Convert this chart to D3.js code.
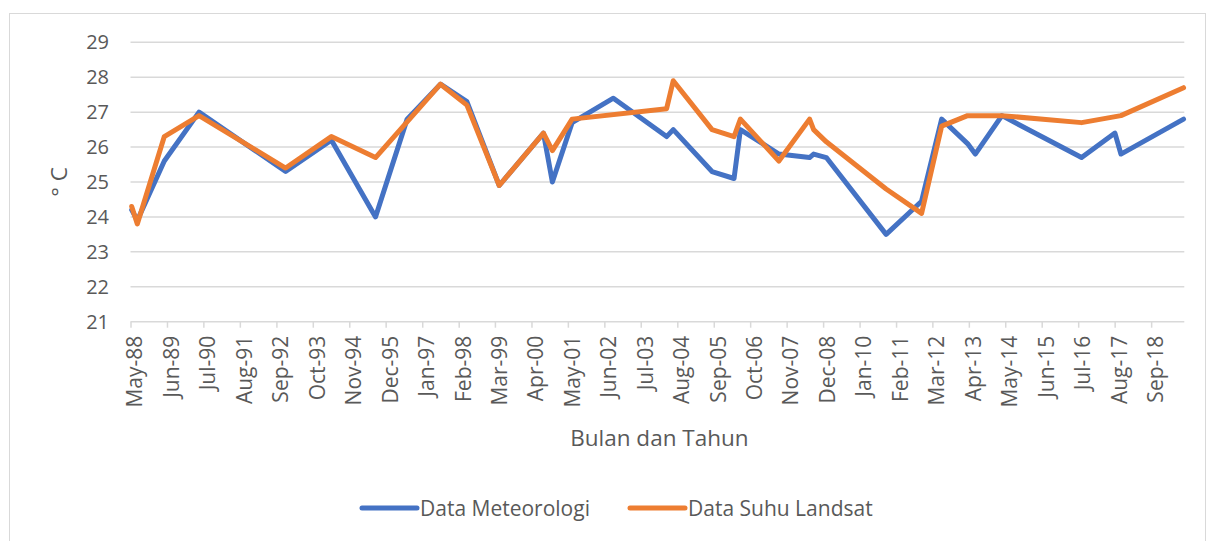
<!DOCTYPE html>
<html>
<head>
<meta charset="utf-8">
<script src="https://cdn.jsdelivr.net/npm/d3@7"></script>
<style>
body { margin: 0; background: #fff; }
svg text { font-family: "Open Sans", sans-serif; fill: #595959; }
</style>
</head>
<body>
<svg width="1206" height="541"></svg>
<script>
// acquisition dates (shared by both series, null = no value on that date)
var dates = [
    "1988-05-14", "1988-07-14", "1989-05-03", "1990-05-15", "1992-12-10",
    "1994-04-20", "1995-08-13", "1996-07-21", "1997-07-18", "1998-05-01",
    "1999-04-17", "2000-08-09", "2000-11-14", "2001-06-16", "2002-09-07",
    "2004-04-07", "2004-06-18", "2005-08-13", "2006-04-09", "2006-06-17",
    "2007-08-09", "2008-07-07", "2008-08-20", "2009-01-05", "2010-10-16",
    "2011-11-05", "2012-06-10", "2013-03-18", "2013-06-10", "2014-03-26",
    "2016-08-07", "2017-08-04", "2017-10-08", "2019-08-19"
];

var meteorologi = [
    24.2, 23.9, 25.6, 27.0, 25.3,
    26.2, 24.0, 26.8, 27.8, 27.3,
    24.9, 26.4, 25.0, 26.7, 27.4,
    26.3, 26.5, 25.3, 25.1, 26.5,
    25.8, 25.7, 25.8, 25.7, 23.5,
    24.45, 26.8, 26.1, 25.8, 26.9,
    25.7, 26.4, 25.8, 26.8
];

var landsat = [
    24.3, 23.8, 26.3, 26.9, 25.4,
    26.3, 25.7, null, 27.8, 27.2,
    24.9, 26.4, 25.9, 26.8, null,
    27.1, 27.9, 26.5, 26.3, 26.8,
    25.6, 26.8, 26.5, 26.15, 24.8,
    24.1, 26.6, 26.9, null, 26.9,
    26.7, null, 26.9, 27.7
];

var seriesNames = ["Data Meteorologi", "Data Suhu Landsat"];
var seriesColors = ["#4472C4", "#ED7D31"];

var xTickLabels = [
    "May-88", "Jun-89", "Jul-90", "Aug-91", "Sep-92", "Oct-93", "Nov-94", "Dec-95",
    "Jan-97", "Feb-98", "Mar-99", "Apr-00", "May-01", "Jun-02", "Jul-03", "Aug-04",
    "Sep-05", "Oct-06", "Nov-07", "Dec-08", "Jan-10", "Feb-11", "Mar-12", "Apr-13",
    "May-14", "Jun-15", "Jul-16", "Aug-17", "Sep-18"
];
var yTicks = [21, 22, 23, 24, 25, 26, 27, 28, 29];
var axisStart = "1988-05-01", axisEnd = "2019-08-27";

var parseDay = d3.timeParse("%Y-%m-%d"),
    parseTick = d3.timeParse("%b-%y");

var svg = d3.select("svg"),
    plotLeft = 130.5, plotRight = 1184.3, plotTop = 42.3, plotBottom = 321.7;

var x = d3.scaleTime()
    .domain([parseDay(axisStart), parseDay(axisEnd)])
    .range([plotLeft, plotRight]);

var y = d3.scaleLinear()
    .domain([21, 29])
    .range([plotBottom, plotTop]);

// chart frame
svg.append("rect")
    .attr("x", 9.5).attr("y", 13.5)
    .attr("width", 1196).attr("height", 560)
    .attr("fill", "none")
    .attr("stroke", "#d9d9d9");

// gridlines
svg.append("g")
    .selectAll("line")
    .data(yTicks)
    .join("line")
    .attr("x1", plotLeft).attr("x2", plotRight)
    .attr("y1", function(d){ return y(d); })
    .attr("y2", function(d){ return y(d); })
    .attr("stroke", "#d9d9d9")
    .attr("stroke-width", 1.5);

// y axis labels
svg.append("g")
    .attr("transform", "translate(109,0)")
    .call(d3.axisLeft(y).tickValues(yTicks).tickSize(0).tickPadding(0))
    .call(function(g){ g.select(".domain").remove(); })
    .selectAll("text")
    .attr("font-size", 20)
    .attr("font-family", "Open Sans")
    .attr("fill", "#595959");

// x axis ticks + rotated labels
var tickDates = xTickLabels.map(function(s){ return parseTick(s); });
var xAxis = svg.append("g")
    .attr("transform", "translate(0," + plotBottom + ")")
    .call(d3.axisBottom(x).tickValues(tickDates).tickSize(6).tickFormat(d3.timeFormat("%b-%y")));
xAxis.select(".domain").remove();
xAxis.selectAll(".tick line").attr("stroke", "#d9d9d9").attr("stroke-width", 1.5);
xAxis.selectAll(".tick text")
    .attr("font-size", 21)
    .attr("font-family", "Open Sans")
    .attr("fill", "#595959")
    .attr("text-anchor", "end")
    .attr("transform", "translate(4,0) rotate(-90)")
    .attr("x", -14)
    .attr("y", 0)
    .attr("dy", "0.35em");

// axis titles
svg.append("text")
    .attr("x", (plotLeft + plotRight) / 2 + 2)
    .attr("y", 446)
    .attr("text-anchor", "middle")
    .attr("font-size", 22.5)
    .text("Bulan dan Tahun");

svg.append("text")
    .attr("transform", "translate(67," + ((plotTop + plotBottom) / 2) + ") rotate(-90)")
    .attr("text-anchor", "middle")
    .attr("font-size", 22.5)
    .text("° C");

// series lines
var line = d3.line()
    .x(function(d){ return x(d.date); })
    .y(function(d){ return y(d.value); });

function points(values) {
    return dates.map(function(s, i){
        return { date: parseDay(s), value: values[i] };
    }).filter(function(d){ return d.value != null; });
}

[meteorologi, landsat].forEach(function(values, i) {
    svg.append("path")
        .datum(points(values))
        .attr("d", line)
        .attr("fill", "none")
        .attr("stroke", seriesColors[i])
        .attr("stroke-width", 5)
        .attr("stroke-linejoin", "round")
        .attr("stroke-linecap", "round");
});

// legend
var legendX = [362, 630];
seriesNames.forEach(function(name, i) {
    var g = svg.append("g").attr("transform", "translate(" + legendX[i] + ",0)");
    g.append("line")
        .attr("x1", 0).attr("x2", 55)
        .attr("y1", 508).attr("y2", 508)
        .attr("stroke", seriesColors[i])
        .attr("stroke-width", 5)
        .attr("stroke-linecap", "round");
    g.append("text")
        .attr("x", 58)
        .attr("y", 515.5)
        .attr("font-size", 21)
        .text(name);
});
</script>
</body>
</html>
